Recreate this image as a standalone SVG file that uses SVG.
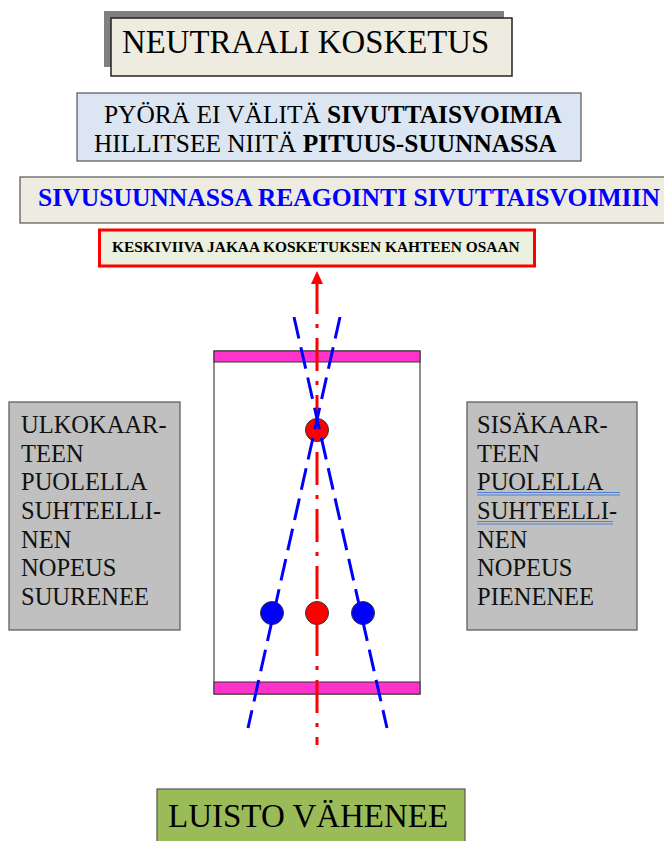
<svg xmlns="http://www.w3.org/2000/svg" width="664" height="841" viewBox="0 0 664 841">
  <style>
    .serif { font-family: "Liberation Serif", "Times New Roman", serif; fill: #000; }
    .b { font-weight: bold; }
    .box { stroke: #555; stroke-width: 1.2; }
    .side { fill: #C0C0C0; stroke: #555; stroke-width: 1.2; }
    .sideText { font-family: "Liberation Serif", "Times New Roman", serif; font-size: 24.5px; fill: #111; }
    .ul { stroke: #4F7FD8; stroke-width: 1; }
    .bar { fill: #FF33CC; stroke: #333; stroke-width: 1; }
    .dot { stroke: #333; stroke-width: 1; }
    .guide { stroke: #0000FF; stroke-width: 3; stroke-dasharray: 22 9; fill: none; }
    .axis { stroke: #FF0000; stroke-width: 3; stroke-dasharray: 33 10 4 10; stroke-dashoffset: 1; fill: none; }
  </style>

  <rect width="664" height="841" fill="#FFFFFF"/>

  <!-- Title with drop shadow -->
  <g id="title">
    <rect x="104" y="11" width="400" height="56" fill="#808080"/>
    <rect x="111" y="18" width="401" height="58" fill="#EEECE1" stroke="#222" stroke-width="1.5"/>
    <text class="serif" x="122" y="53" font-size="32.8">NEUTRAALI KOSKETUS</text>
  </g>

  <!-- Wheel behaviour note -->
  <g id="note-wheel">
    <rect class="box" x="77" y="93" width="504" height="68" fill="#DCE6F2"/>
    <text class="serif" x="104" y="123" font-size="25.4">PYÖRÄ EI VÄLITÄ <tspan class="b">SIVUTTAISVOIMIA</tspan></text>
    <text class="serif" x="94" y="152" font-size="25.4">HILLITSEE NIITÄ <tspan class="b">PITUUS-SUUNNASSA</tspan></text>
  </g>

  <!-- Lateral reaction banner -->
  <g id="note-lateral">
    <rect class="box" x="20" y="177" width="650" height="46" fill="#EEECE1"/>
    <text class="serif b" x="38" y="206" font-size="25.6" style="fill:#0000FF">SIVUSUUNNASSA REAGOINTI SIVUTTAISVOIMIIN</text>
  </g>

  <!-- Centre line caption -->
  <g id="note-centerline">
    <rect x="99.5" y="230" width="435" height="36" fill="#EBF1DE" stroke="#FF0000" stroke-width="3"/>
    <text class="serif b" x="112" y="252" font-size="15.4">KESKIVIIVA JAKAA KOSKETUKSEN KAHTEEN OSAAN</text>
  </g>

  <!-- Contact patch -->
  <g id="contact-patch">
    <rect x="214" y="351" width="206" height="343" fill="#FFFFFF" stroke="#444" stroke-width="1.2"/>
    <rect class="bar" x="214" y="351" width="206" height="11"/>
    <rect class="bar" x="214" y="682" width="206" height="12"/>
  </g>

  <!-- Contact points -->
  <g id="points">
    <circle class="dot" cx="317" cy="430" r="11.5" fill="#FF0000"/>
    <circle class="dot" cx="272" cy="613" r="11.5" fill="#0000FF"/>
    <circle class="dot" cx="317" cy="613" r="11.5" fill="#FF0000"/>
    <circle class="dot" cx="363" cy="613" r="11.5" fill="#0000FF"/>
  </g>

  <!-- Centre line and converging guides -->
  <g id="connectors">
    <line class="axis" x1="317" y1="282" x2="317" y2="745"/>
    <polygon points="317,271 311,284 323,284" fill="#FF0000"/>
    <line class="guide" x1="294" y1="317" x2="387" y2="728"/>
    <line class="guide" x1="340" y1="317" x2="248" y2="728"/>
  </g>

  <!-- Outer side -->
  <g id="outer-side">
    <rect class="side" x="9" y="402" width="171" height="228"/>
    <text class="sideText" x="21" y="433">ULKOKAAR-</text>
    <text class="sideText" x="21" y="461.5">TEEN</text>
    <text class="sideText" x="21" y="490">PUOLELLA</text>
    <text class="sideText" x="21" y="519">SUHTEELLI-</text>
    <text class="sideText" x="21" y="547.5">NEN</text>
    <text class="sideText" x="21" y="576">NOPEUS</text>
    <text class="sideText" x="21" y="605">SUURENEE</text>
  </g>

  <!-- Inner side -->
  <g id="inner-side">
    <rect class="side" x="467" y="402" width="170" height="228"/>
    <text class="sideText" x="477" y="433">SISÄKAAR-</text>
    <text class="sideText" x="477" y="461.5">TEEN</text>
    <text class="sideText" x="477" y="490">PUOLELLA </text>
    <line class="ul" x1="477" y1="492.5" x2="620" y2="492.5"/>
    <line class="ul" x1="477" y1="495" x2="620" y2="495"/>
    <text class="sideText" x="477" y="519">SUHTEELLI-</text>
    <line class="ul" x1="477" y1="521.5" x2="613" y2="521.5"/>
    <line class="ul" x1="477" y1="524" x2="613" y2="524"/>
    <text class="sideText" x="477" y="547.5">NEN</text>
    <text class="sideText" x="477" y="576">NOPEUS</text>
    <text class="sideText" x="477" y="605">PIENENEE</text>
  </g>

  <!-- Result -->
  <g id="result">
    <rect x="157" y="789" width="308" height="60" fill="#9BBB59" stroke="#555" stroke-width="1.2"/>
    <text class="serif" x="168" y="827" font-size="33">LUISTO VÄHENEE</text>
  </g>
</svg>
